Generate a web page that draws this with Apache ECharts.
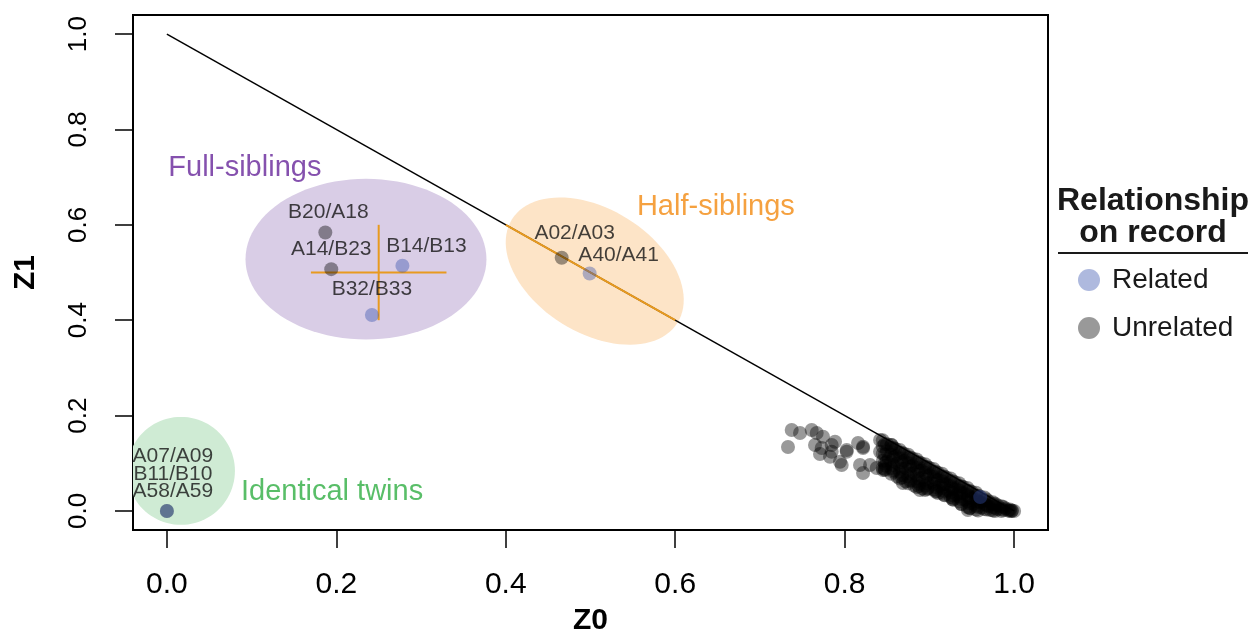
<!DOCTYPE html>
<html>
<head>
<meta charset="utf-8">
<script src="https://cdn.jsdelivr.net/npm/echarts@6/dist/echarts.min.js"></script>
<style>
	html, body { margin: 0; padding: 0; background: #fff; }
	#main { width: 1252px; height: 633px; }
</style>
</head>
<body>
<div id="main"></div>
<script>
// tick labels on both axes
const tickValues = [0, 0.2, 0.4, 0.6, 0.8, 1.0];

// labelled pairs (Z0, Z1)
const relatedPairs = [
	{ name: 'B14/B13', value: [0.278, 0.514] },
	{ name: 'B32/B33', value: [0.242, 0.411] },
	{ name: 'A40/A41', value: [0.499, 0.498] },
	{ name: '', value: [0.960, 0.029] },
	{ name: 'A07/A09\nB11/B10\nA58/A59', value: [0.0, 0.0] }
];
const unrelatedPairs = [
	{ name: 'B20/A18', value: [0.187, 0.584] },
	{ name: 'A14/B23', value: [0.194, 0.507] },
	{ name: 'A02/A03', value: [0.466, 0.531] },
	{ name: '', value: [0.0, 0.0] }
];

// unlabelled unrelated pairs (the cloud near Z0 = 1)
const cloudZ0 = [
	0.7375, 0.7473, 0.7611, 0.7670, 0.7331, 0.7650, 0.7729, 0.7709, 0.7847, 0.7847,
	0.7827, 0.7945, 0.7965, 0.8024, 0.8158, 0.8217, 0.8181, 0.8217, 0.8300, 0.8418,
	0.8378, 0.8476, 0.8496, 0.8555, 0.7744, 0.7886, 0.8024, 0.8217, 0.8453, 0.8418,
	0.8688, 0.8889, 0.9101, 0.9278, 0.9455,
	0.850, 0.850, 0.852, 0.848, 0.860, 0.860, 0.862, 0.858, 0.862,
	0.870, 0.870, 0.872, 0.868, 0.872, 0.880, 0.880, 0.882, 0.878, 0.882,
	0.890, 0.890, 0.892, 0.888, 0.892, 0.900, 0.900, 0.902, 0.898,
	0.910, 0.910, 0.912, 0.908, 0.920, 0.920, 0.922, 0.918,
	0.930, 0.930, 0.932, 0.928, 0.940, 0.940, 0.942, 0.938,
	0.950, 0.950, 0.952, 0.948, 0.960, 0.960, 0.962,
	0.970, 0.970, 0.972, 0.980, 0.980, 0.985, 0.990, 0.993, 0.997, 1.000,
	0.855, 0.865, 0.875, 0.885, 0.895, 0.905, 0.915, 0.925, 0.935, 0.945, 0.955, 0.965, 0.975,
	0.845, 0.845, 0.845, 0.845, 0.845,
	0.855, 0.855, 0.855, 0.855, 0.855,
	0.865, 0.865, 0.865, 0.865, 0.865,
	0.875, 0.875, 0.875, 0.875, 0.875,
	0.885, 0.885, 0.885, 0.885, 0.885,
	0.895, 0.895, 0.895, 0.895, 0.895,
	0.905, 0.905, 0.905, 0.905,
	0.915, 0.915, 0.915, 0.915,
	0.925, 0.925, 0.925, 0.925,
	0.935, 0.935, 0.935, 0.935,
	0.945, 0.945, 0.945, 0.945,
	0.955, 0.955, 0.955, 0.955,
	0.965, 0.965, 0.965,
	0.975, 0.975, 0.975,
	0.985, 0.985,
	0.995, 0.995,
	0.8475, 0.8475, 0.8475, 0.8475,
	0.8575, 0.8575, 0.8575, 0.8575,
	0.8675, 0.8675, 0.8675, 0.8675,
	0.8775, 0.8775, 0.8775, 0.8775,
	0.8875, 0.8875, 0.8875, 0.8875,
	0.8975, 0.8975, 0.8975, 0.8975,
	0.9075, 0.9075, 0.9075, 0.9075,
	0.9175, 0.9175, 0.9175, 0.9175,
	0.9275, 0.9275, 0.9275, 0.9275,
	0.9375, 0.9375, 0.9375, 0.9375,
	0.9475, 0.9475, 0.9475, 0.9475,
	0.9575, 0.9575, 0.9575, 0.9575,
	0.9675, 0.9675, 0.9675,
	0.9775, 0.9775, 0.9775,
	0.9875, 0.9875,
	0.9975
];
const cloudZ1 = [
	0.1696, 0.1633, 0.1696, 0.1633, 0.1340, 0.1382, 0.1319, 0.1193, 0.1382, 0.1241,
	0.1137, 0.1032, 0.0962, 0.1241, 0.1424, 0.1319, 0.0962, 0.0795, 0.0962, 0.1241,
	0.0900, 0.0858, 0.1032, 0.1382, 0.1556, 0.1451, 0.1277, 0.1346, 0.0858, 0.1487,
	0.0587, 0.0440, 0.0375, 0.0270, 0.0019,
	0.140, 0.125, 0.110, 0.095, 0.130, 0.115, 0.100, 0.085, 0.072,
	0.120, 0.105, 0.090, 0.075, 0.062, 0.110, 0.095, 0.080, 0.065, 0.053,
	0.100, 0.085, 0.070, 0.057, 0.047, 0.090, 0.075, 0.060, 0.048,
	0.080, 0.065, 0.052, 0.042, 0.070, 0.056, 0.043, 0.033,
	0.060, 0.046, 0.034, 0.024, 0.050, 0.037, 0.024, 0.014,
	0.040, 0.027, 0.015, 0.006, 0.030, 0.018, 0.007,
	0.020, 0.010, 0.002, 0.012, 0.004, 0.000, 0.005, 0.001, 0.000, 0.000,
	0.132, 0.122, 0.112, 0.102, 0.092, 0.082, 0.072, 0.062, 0.052, 0.042, 0.032, 0.022, 0.014,
	0.148, 0.135, 0.120, 0.105, 0.090,
	0.138, 0.118, 0.104, 0.090, 0.078,
	0.128, 0.110, 0.095, 0.082, 0.068,
	0.118, 0.100, 0.086, 0.072, 0.058,
	0.108, 0.090, 0.076, 0.062, 0.050,
	0.098, 0.080, 0.066, 0.053, 0.044,
	0.088, 0.071, 0.057, 0.045,
	0.078, 0.062, 0.048, 0.038,
	0.068, 0.052, 0.039, 0.029,
	0.058, 0.043, 0.030, 0.020,
	0.048, 0.033, 0.020, 0.008,
	0.038, 0.024, 0.011, 0.003,
	0.028, 0.015, 0.004,
	0.018, 0.008, 0.001,
	0.010, 0.004,
	0.003, 0.000,
	0.140, 0.118, 0.100, 0.088,
	0.132, 0.112, 0.096, 0.082,
	0.122, 0.102, 0.088, 0.070,
	0.112, 0.093, 0.078, 0.062,
	0.102, 0.084, 0.068, 0.052,
	0.092, 0.074, 0.058, 0.046,
	0.082, 0.066, 0.050, 0.040,
	0.072, 0.056, 0.042, 0.034,
	0.062, 0.047, 0.033, 0.024,
	0.052, 0.038, 0.025, 0.015,
	0.042, 0.029, 0.016, 0.006,
	0.032, 0.020, 0.008, 0.001,
	0.024, 0.012, 0.003,
	0.015, 0.006, 0.000,
	0.008, 0.002,
	0.001
];

// group shading: centre, half-widths (x units, y units), tilt on screen in degrees
const groupRegions = [
	{ cx: 0.235, cy: 0.528, rx: 0.1422, ry: 0.1684, tilt: 0, fill: '#d9cde6' },
	{ cx: 0.505, cy: 0.503, rx: 0.1152, ry: 0.1296, tilt: 32, fill: '#fde4c7' },
	{ cx: 0.0166, cy: 0.084, rx: 0.0637, ry: 0.1132, tilt: 0, fill: '#cfebd4' }
];
const groupNotes = [
	{ name: 'Full-siblings', value: [0.092, 0.720], color: '#66259a' },
	{ name: 'Half-siblings', value: [0.648, 0.638], color: '#f28a10' },
	{ name: 'Identical twins', value: [0.195, 0.040], color: '#2fae42' }
];

// label offsets from the point centre, px
const labelOffsets = {
	'B20/A18': [3, -20], 'A14/B23': [0, -20], 'B14/B13': [24, -20], 'B32/B33': [0, -26],
	'A02/A03': [13, -25], 'A40/A41': [29, -18], 'A07/A09\nB11/B10\nA58/A59': [6, -37]
};

const FONT = '"Liberation Sans", Arial, Helvetica, sans-serif';

function withLabels(list) {
	return list.map(function (d) {
		return {
			name: d.name,
			value: d.value,
			label: {
				show: d.name !== '',
				position: 'inside',
				offset: labelOffsets[d.name] || [0, 0],
				formatter: '{b}',
				fontSize: 21,
				lineHeight: 17.5,
				color: '#141414',
				textBorderWidth: 0
			}
		};
	});
}

var cloud = cloudZ0.map(function (x, i) { return [x, cloudZ1[i]]; });

var myChart = echarts.init(document.getElementById('main'));
let option = {
	animation: false,
	textStyle: { fontFamily: FONT },
	grid: {
		left: 133, top: 15, right: 204, bottom: 103,
		containLabel: false, outerBoundsMode: 'none',
		show: true, borderColor: '#000', borderWidth: 2, backgroundColor: '#fff'
	},
	xAxis: {
		type: 'value', min: -0.04, max: 1.04,
		name: 'Z0', nameLocation: 'middle', nameGap: 76,
		nameTextStyle: { fontSize: 30, fontWeight: 'bold', color: '#000' },
		axisLine: { show: false, onZero: false },
		axisTick: { show: true, length: 18, customValues: tickValues, lineStyle: { color: '#000', width: 1.5 } },
		axisLabel: {
			customValues: tickValues, fontSize: 30, color: '#000', margin: 40,
			formatter: function (v) { return v.toFixed(1); }
		},
		splitLine: { show: false }
	},
	yAxis: {
		type: 'value', min: -0.04, max: 1.04,
		name: 'Z1', nameLocation: 'middle', nameGap: 92,
		nameTextStyle: { fontSize: 30, fontWeight: 'bold', color: '#000' },
		axisLine: { show: false, onZero: false },
		axisTick: { show: true, length: 18, customValues: tickValues, lineStyle: { color: '#000', width: 1.5 } },
		axisLabel: {
			customValues: tickValues, fontSize: 26, color: '#000', margin: 41, rotate: 90,
			formatter: function (v) { return v.toFixed(1); }
		},
		splitLine: { show: false }
	},
	legend: {
		data: ['Related', 'Unrelated'],
		orient: 'vertical', left: 1073, top: 261,
		icon: 'circle', itemWidth: 36, itemHeight: 22, itemGap: 20,
		selectedMode: false,
		textStyle: { fontSize: 28, color: '#1a1a1a' }
	},
	graphic: [
		{ type: 'text', x: 1153, y: 201, style: { text: 'Relationship', font: 'bold 32px ' + FONT, textAlign: 'center', textVerticalAlign: 'middle', fill: '#1a1a1a' } },
		{ type: 'text', x: 1153, y: 233, style: { text: 'on record', font: 'bold 32px ' + FONT, textAlign: 'center', textVerticalAlign: 'middle', fill: '#1a1a1a' } },
		{ type: 'line', shape: { x1: 1058, y1: 253, x2: 1248, y2: 253 }, style: { stroke: '#1a1a1a', lineWidth: 2 } }
	],
	series: [
		{
			// shaded group regions
			type: 'custom',
			clip: true,
			silent: true,
			data: groupRegions.map(function (r) { return [r.cx, r.cy]; }),
			renderItem: function (params, api) {
				var r = groupRegions[params.dataIndex];
				var c = api.coord([r.cx, r.cy]);
				var a = api.size([r.rx, 0])[0];
				var b = api.size([0, r.ry])[1];
				var th = r.tilt * Math.PI / 180;
				var pts = [];
				for (var k = 0; k < 96; k++) {
					var t = k / 96 * Math.PI * 2;
					var ex = a * Math.cos(t), ey = b * Math.sin(t);
					pts.push([c[0] + ex * Math.cos(th) - ey * Math.sin(th), c[1] + ex * Math.sin(th) + ey * Math.cos(th)]);
				}
				return { type: 'polygon', shape: { points: pts }, style: { fill: r.fill } };
			},
			z: 1
		},
		{
			type: 'line', data: [[0, 1], [1, 0]], symbol: 'none', silent: true,
			lineStyle: { color: '#000', width: 1.5 }, z: 2
		},
		{
			type: 'line', data: [[0.4, 0.6], [0.6, 0.4]], symbol: 'none', silent: true,
			lineStyle: { color: '#e89a1f', width: 2 }, z: 2
		},
		{
			type: 'line', data: [[0.17, 0.5], [0.33, 0.5]], symbol: 'none', silent: true,
			lineStyle: { color: '#e89a1f', width: 2 }, z: 2
		},
		{
			type: 'line', data: [[0.25, 0.4], [0.25, 0.6]], symbol: 'none', silent: true,
			lineStyle: { color: '#e89a1f', width: 2 }, z: 2
		},
		{
			name: 'Unrelated', type: 'scatter', symbolSize: 14,
			itemStyle: { color: 'rgba(0,0,0,0.5)' },
			data: cloud.concat(withLabels(unrelatedPairs)), z: 3
		},
		{
			name: 'Related', type: 'scatter', symbolSize: 14,
			itemStyle: { color: 'rgba(53,81,173,0.5)' },
			data: withLabels(relatedPairs), z: 4
		},
		{
			type: 'scatter', symbolSize: 0, silent: true,
			data: groupNotes.map(function (n) {
				return {
					name: n.name, value: n.value,
					label: { show: true, position: 'inside', formatter: '{b}', fontSize: 29, color: n.color, textBorderWidth: 0 }
				};
			}), z: 5
		}
	]
};
myChart.setOption(option);
</script>
</body>
</html>
